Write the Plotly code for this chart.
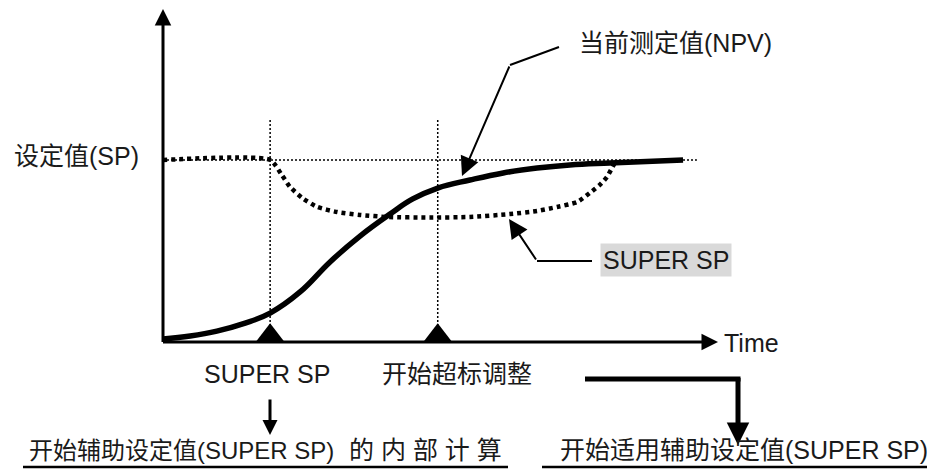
import plotly.graph_objects as go

# time runs 0..100 along the arrow, value 100 = set value (SP)
npv_t = [0, 4.9, 9.7, 14.8, 19.3, 24.7, 30.1, 35.5, 40.9, 45.0, 49.5, 55.3, 61.3, 67.4, 73.3, 80.5, 93.7]
npv_v = [1.6, 3.3, 6.0, 10.4, 15.9, 27.5, 44.0, 58.2, 70.3, 78.6, 84.6, 89.0, 92.9, 95.6, 97.3, 98.4, 100.0]

ssp_t = [0, 19.3, 21.4, 22.9, 25.1, 27.8, 31.4, 35.5, 40.4, 48.1, 55.3, 62.5, 67.4, 71.0, 74.6, 76.9, 78.7, 80.0, 80.9, 81.3]
ssp_v = [100, 100, 91.8, 85.2, 79.1, 74.2, 71.4, 69.8, 68.7, 68.4, 68.7, 70.3, 72.0, 74.2, 76.9, 81.9, 86.3, 90.7, 95.6, 97.8]

sp_value = 100
sp_line_end = 96.2
event_t = [19.3, 49.5]
event_top = 123
event_names = ['SUPER SP', '开始超标调整']

y_label = '设定值(SP)'
x_label = 'Time'
npv_label = '当前测定值(NPV)'
ssp_label = 'SUPER SP'
note_left = '开始辅助设定值(SUPER SP)'
note_left_end = '的 内 部 计 算'
note_right = '开始适用辅助设定值(SUPER SP)'

# page layout (pixels) -> chart units; the page body adds an 8px margin
W, H, PAD = 935, 470, 8
X0, Y0 = 163, 342
KX, KY = 5.55, 1.82
FONT = 'Liberation Sans, Noto Sans CJK SC'


def tx(px):
    return (px - X0) / KX


def vy(py):
    return (Y0 - py) / KY


fig = go.Figure()

# thin dotted guides
fig.add_shape(type='line', x0=0, x1=sp_line_end, y0=sp_value, y1=sp_value,
              line=dict(color='black', width=1.5, dash='2px,2px'), layer='below')
for t in event_t:
    fig.add_shape(type='line', x0=t, x1=t, y0=0, y1=event_top,
                  line=dict(color='black', width=1.5, dash='2px,2px'), layer='below')

fig.add_trace(go.Scatter(x=ssp_t, y=ssp_v, mode='lines',
                         line=dict(color='black', width=4.5, dash='4px,4px', shape='spline', smoothing=0.6)))
fig.add_trace(go.Scatter(x=npv_t, y=npv_v, mode='lines',
                         line=dict(color='black', width=5.5, shape='spline', smoothing=1.2)))

tri_size = 25
fig.add_trace(go.Scatter(x=event_t, y=[tri_size / 4 / KY] * len(event_t), mode='markers',
                         marker=dict(symbol='triangle-up', size=tri_size, color='black')))


def arrow(x0, y0, x1, y1, w, size, head=2):
    fig.add_annotation(x=tx(x1), y=vy(y1), ax=tx(x0), ay=vy(y0), axref='x', ayref='y',
                       xref='x', yref='y', text='', showarrow=True, arrowhead=head,
                       arrowwidth=w, arrowsize=size, arrowcolor='black', standoff=0)


def seg(x0, y0, x1, y1, w):
    fig.add_shape(type='line', x0=tx(x0), x1=tx(x1), y0=vy(y0), y1=vy(y1),
                  line=dict(color='black', width=w))


def label(text, x, y, anchor='left', size=25, **kw):
    fig.add_annotation(x=tx(x), y=vy(y), xref='x', yref='y', text=text, showarrow=False,
                       xanchor=anchor, yanchor='middle', font=dict(family=FONT, size=size, color='#1a1a1a'), **kw)


# axes with arrow heads
arrow(163, 343.5, 163, 9, 3, 1.1)
arrow(161.5, 342, 718, 342, 3, 1.1)

# callouts
seg(559, 47, 510, 65, 2)
arrow(510, 65, 462, 176, 2, 1.9)
seg(592, 261, 537, 261, 2)
arrow(537, 261, 509, 219, 2, 1.9)

arrow(270, 398, 270, 435, 3, 1.0)
seg(585, 379, 740.5, 379, 5)
arrow(738, 376.5, 738, 445, 5, 0.9)

label(y_label, 12, 156)
label(npv_label, 577, 43)
label(x_label, 722, 343)
label(ssp_label, 666, 259.5, anchor='center', bgcolor='#d9d9d9', borderpad=2)
label(event_names[0], 202, 374)
label(event_names[1], 380, 374)
label(note_left, 27, 450, size=24)
label(note_left_end, 347, 450)
label(note_right, 930, 450, anchor='right')
seg(23, 467, 508, 467, 2.5)
seg(542, 467, 932, 467, 2.5)

fig.update_layout(
    width=W - PAD, height=H - PAD, margin=dict(l=0, r=0, t=0, b=0),
    plot_bgcolor='white', paper_bgcolor='white', showlegend=False,
    xaxis=dict(range=[tx(PAD), tx(W)], visible=False),
    yaxis=dict(range=[vy(H), vy(PAD)], visible=False),
)

fig.write_html("out.html")
